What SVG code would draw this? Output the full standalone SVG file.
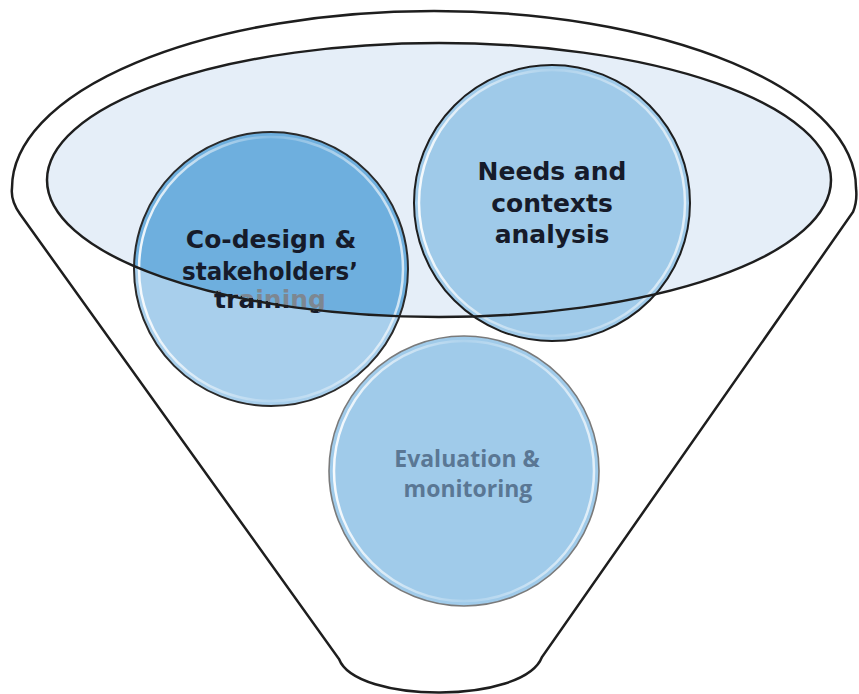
<svg xmlns="http://www.w3.org/2000/svg" width="859" height="694" viewBox="0 0 859 694">
  <style>
    .outline { fill: none; stroke: #1e1e1e; stroke-width: 2.5; }
    .ring { fill: none; stroke: url(#ringGrad); stroke-width: 2.5; }
    .gothic { font-family: "DejaVu Sans", "Liberation Sans", sans-serif; font-weight: bold; font-size: 25px; fill: #161b2a; text-anchor: middle; }
    .calib { font-family: "Open Sans", "Liberation Sans", sans-serif; font-weight: bold; font-size: 23px; fill: #5a7794; text-anchor: middle; }
  </style>
  <defs>
    <linearGradient id="ringGrad" x1="0" y1="0" x2="1" y2="0">
      <stop offset="0" stop-color="#ffffff" stop-opacity="0.9"/>
      <stop offset="0.5" stop-color="#ffffff" stop-opacity="0.15"/>
      <stop offset="1" stop-color="#ffffff" stop-opacity="0.7"/>
    </linearGradient>
    <clipPath id="ellClip">
      <ellipse cx="439" cy="180" rx="392" ry="137"/>
    </clipPath>
    <linearGradient id="trainGrad" gradientUnits="userSpaceOnUse" x1="271" y1="297" x2="269" y2="307">
      <stop offset="0.5" stop-color="#7d8791"/>
      <stop offset="0.5" stop-color="#161b2a"/>
    </linearGradient>
  </defs>
  <rect width="859" height="694" fill="#ffffff"/>

  <g id="funnel">
    <path d="M 20,214 C 13,204 11,196 12,188 A 422,177 0 0 1 856,188 C 857,197 856,205 853,212 L 542,657 C 524,704 356,704 339,659 Z" fill="#ffffff" stroke="#1e1e1e" stroke-width="2.5"/>
  </g>

  <g id="focus-area">
    <ellipse cx="439" cy="180" rx="392" ry="137" fill="#e5eef8"/>
  </g>

  <g id="node-codesign">
    <circle cx="271" cy="269" r="137" fill="#a8cfec"/>
    <circle cx="271" cy="269" r="137" fill="#6eafde" clip-path="url(#ellClip)"/>
    <circle cx="271" cy="269" r="132" class="ring"/>
    <circle cx="271" cy="269" r="137" fill="none" stroke="#2a2a2a" stroke-width="2"/>
    <text class="gothic" x="271" y="248">Co-design &amp;</text>
    <text class="gothic" x="270" y="280" textLength="176" lengthAdjust="spacingAndGlyphs">stakeholders’</text>
    <text class="gothic" x="270" y="308" style="fill:url(#trainGrad)">training</text>
  </g>

  <g id="node-needs">
    <circle cx="552" cy="203" r="138" fill="#9fcae9"/>
    <circle cx="552" cy="203" r="133" class="ring"/>
    <circle cx="552" cy="203" r="138" fill="none" stroke="#1e1e1e" stroke-width="2"/>
    <text class="gothic" x="552" y="180">Needs and</text>
    <text class="gothic" x="552" y="212">contexts</text>
    <text class="gothic" x="552" y="243">analysis</text>
  </g>

  <g id="node-evaluation">
    <circle cx="464" cy="471" r="135" fill="#a0cbea"/>
    <circle cx="464" cy="471" r="130" class="ring"/>
    <circle cx="464" cy="471" r="135" fill="none" stroke="#7a7a7a" stroke-width="1.6"/>
    <text class="calib" x="467" y="467">Evaluation &amp;</text>
    <text class="calib" x="468" y="497">monitoring</text>
  </g>

  <g id="connectors">
    <ellipse cx="439" cy="180" rx="392" ry="137" class="outline"/>
  </g>
</svg>
